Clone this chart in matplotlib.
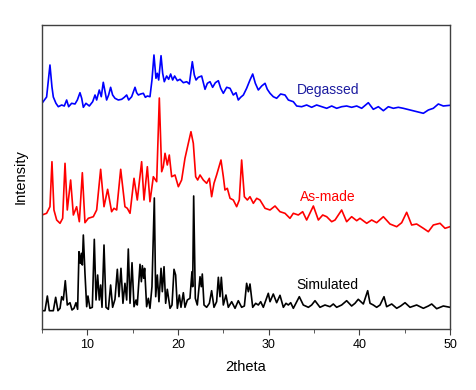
import matplotlib
matplotlib.use("Agg")
import matplotlib.pyplot as plt
from matplotlib.ticker import MultipleLocator

plt.rcParams['font.family'] = ['Liberation Sans', 'DejaVu Sans']

# XRD patterns (2theta, stacked intensity a.u.)
degassed_2theta = [5.00, 5.51, 5.88, 6.10, 6.25, 6.54, 6.80, 7.17, 7.46, 7.72, 7.94, 8.27, 8.64, 8.90,
                   9.19, 9.38, 9.56, 9.85, 10.22, 10.59, 10.85, 11.03, 11.32, 11.54, 11.76, 11.99, 12.13,
                   12.35, 12.57, 12.79, 13.05, 13.42, 13.79, 14.08, 14.34, 14.56, 14.89, 15.26, 15.44,
                   15.63, 15.88, 16.18, 16.40, 16.62, 16.91, 17.13, 17.35, 17.57, 17.72, 17.87, 18.13,
                   18.31, 18.49, 18.75, 18.97, 19.19, 19.41, 19.63, 19.93, 20.22, 20.59, 20.96, 21.25,
                   21.58, 21.80, 21.99, 22.24, 22.61, 22.98, 23.24, 23.53, 23.82, 24.12, 24.45, 24.71,
                   25.00, 25.37, 25.74, 26.10, 26.40, 26.65, 26.91, 27.21, 27.57, 27.94, 28.24, 28.53,
                   28.86, 29.23, 29.60, 29.85, 30.15, 30.51, 30.88, 31.32, 31.80, 32.17, 32.72, 33.09,
                   33.64, 34.19, 34.74, 35.29, 35.85, 36.40, 36.95, 37.50, 38.05, 38.60, 39.15, 39.71,
                   40.26, 40.99, 41.54, 42.10, 42.65, 43.20, 43.75, 44.30, 44.85, 45.59, 46.32, 47.06,
                   47.61, 48.16, 48.71, 49.26, 50.00]
degassed_int = [225.7, 232, 264, 242, 232, 225.7, 222.3, 224, 223, 229, 222.3, 225.7, 225, 229,
                236.3, 230.7, 221.7, 225.7, 223, 227.3, 234, 229, 239, 232.3, 246.7, 235.7, 229,
                234, 241.7, 234, 230.7, 229, 229.7, 231.7, 234, 229, 232.3, 241.7, 236.3,
                234, 235, 235.7, 231.7, 233, 232.3, 249, 274, 250.7, 255.7, 249, 273.3,
                255.7, 247.3, 253, 249.7, 255, 249, 253, 248.3, 249.7, 246.3, 247.3, 245,
                267.3, 254, 249, 251.7, 253, 239.7, 245.7, 247.3, 241.7, 246.3, 248.3, 240.7,
                235.7, 241.7, 240.7, 234, 236.3, 229, 231.7, 234, 240.7, 249, 255, 245.7,
                239, 243, 245.7, 239.7, 235.7, 232.3, 230.7, 235, 234, 229, 227.3, 223,
                222.3, 224, 221.7, 224, 222.3, 220.7, 223, 220.7, 222.3, 223, 221.7, 223,
                220.7, 226.3, 219.7, 222.3, 218.3, 222.3, 220.7, 221.7, 220.7, 219, 217.3, 215.7,
                219, 220.7, 225, 223, 223.7]

asmade_2theta = [5.00, 5.51, 5.88, 6.10, 6.32, 6.62, 6.99, 7.28, 7.54, 7.79, 8.16, 8.46, 8.82, 9.12,
                 9.45, 9.74, 10.11, 10.66, 11.03, 11.47, 11.84, 12.24, 12.68, 12.94, 13.24, 13.68,
                 14.15, 14.41, 14.71, 15.15, 15.51, 15.99, 16.25, 16.62, 16.91, 17.28, 17.65, 17.94,
                 18.20, 18.38, 18.57, 18.82, 19.04, 19.30, 19.67, 20.04, 20.40, 20.77, 21.14, 21.43,
                 21.69, 21.95, 22.17, 22.43, 22.79, 23.16, 23.46, 23.71, 23.97, 24.26, 24.74, 25.00,
                 25.18, 25.44, 25.74, 26.10, 26.47, 26.76, 27.02, 27.32, 27.65, 27.94, 28.31, 28.68,
                 29.04, 29.60, 30.15, 30.70, 31.25, 31.80, 32.35, 32.72, 33.27, 33.75, 34.19, 34.93,
                 35.48, 35.96, 36.40, 36.95, 37.32, 38.05, 38.60, 39.15, 39.71, 40.07, 40.81, 41.36,
                 41.91, 42.65, 43.38, 44.12, 44.67, 45.22, 45.77, 46.32, 47.06, 47.61, 48.16, 48.90,
                 49.45, 50.00]
asmade_int = [114, 115.7, 122.3, 167.3, 119, 109, 105.7, 110.7, 165.7, 119, 149, 114, 122.3, 107.3,
              156.3, 106.3, 110.7, 112.3, 119, 159.7, 122.3, 139.7, 117.3, 120.7, 119, 159.7,
              122.3, 120.7, 115.7, 150.7, 129, 167.3, 129, 162.3, 127.3, 152.3, 147.3, 231,
              157.3, 162.3, 175.7, 164, 174, 152.3, 154, 142.3, 149, 170.7, 185.7, 197.3,
              185.7, 152.3, 149, 154, 149, 145.7, 150.7, 132.3, 145.7, 154, 169, 152.3,
              139, 140.7, 130.7, 129, 122.3, 129, 169, 132.3, 129, 132.3, 125.7, 130.7,
              129, 120.7, 119, 123, 117.3, 115.7, 110.7, 115.7, 114, 117.3, 109, 123,
              109, 114, 112.3, 107.3, 109, 119, 107.3, 112.3, 108.3, 110.7, 105.7, 109,
              106.3, 112.3, 105, 102.3, 106.3, 116.7, 104, 105, 100.7, 97.3, 104, 105.7,
              100.7, 102.3]

simulated_2theta = [5.00, 5.33, 5.59, 5.81, 6.25, 6.51, 6.76, 6.99, 7.17, 7.35, 7.57, 7.79, 8.09, 8.31,
                    8.53, 8.75, 8.93, 9.08, 9.23, 9.34, 9.45, 9.56, 9.74, 9.93, 10.07, 10.29, 10.55,
                    10.77, 10.96, 11.14, 11.32, 11.47, 11.62, 11.84, 12.06, 12.32, 12.57, 12.79, 13.05,
                    13.31, 13.49, 13.71, 13.93, 14.15, 14.34, 14.52, 14.71, 14.93, 15.15, 15.37, 15.51,
                    15.81, 15.96, 16.07, 16.21, 16.32, 16.54, 16.73, 16.91, 17.13, 17.39, 17.54, 17.72,
                    17.90, 18.13, 18.27, 18.46, 18.64, 18.82, 19.12, 19.34, 19.56, 19.74, 19.93, 20.15,
                    20.33, 20.59, 20.77, 21.03, 21.32, 21.54, 21.62, 21.73, 21.91, 22.13, 22.43, 22.57,
                    22.68, 22.87, 23.16, 23.46, 23.71, 23.97, 24.26, 24.45, 24.63, 24.78, 25.00, 25.29,
                    25.55, 25.92, 26.29, 26.65, 27.02, 27.32, 27.57, 27.76, 27.94, 28.24, 28.57, 28.86,
                    29.12, 29.41, 29.96, 30.15, 30.51, 30.88, 31.25, 31.62, 31.91, 32.17, 32.43, 32.72,
                    33.09, 33.38, 33.82, 34.38, 34.74, 35.11, 35.66, 36.21, 36.76, 37.13, 37.50, 38.05,
                    38.60, 39.15, 39.52, 39.88, 40.44, 40.92, 41.18, 41.54, 41.91, 42.28, 42.72, 43.01,
                    43.57, 44.12, 44.56, 45.04, 45.59, 46.32, 47.06, 47.61, 47.98, 48.53, 49.26, 50.00]
simulated_int = [18.3, 18.3, 33, 18.3, 18.3, 31.7, 18.3, 20.7, 32.3, 29, 48.3, 24, 26.3, 19,
                 20.7, 26.3, 19.7, 77.3, 65.7, 75.7, 64, 94, 55.7, 22.3, 33, 20.7, 21.7,
                 89.7, 29, 54, 29, 44, 21.7, 84, 21.7, 19.7, 44, 21.7, 29.7,
                 59.7, 32.3, 60.7, 25.7, 45.7, 29, 80, 25.7, 66.3, 22.3, 29, 24,
                 64.7, 47.3, 63.3, 50.7, 60.7, 22.3, 30.7, 20.7, 42.3, 131, 32.3, 54,
                 27.3, 60.7, 37.3, 62.3, 25.7, 39.7, 20.7, 24, 59.7, 54, 20.7, 34,
                 21.7, 36.3, 21.7, 29, 30.7, 57.3, 42.3, 133, 30.7, 24, 52.3, 42.3,
                 55, 24, 21.7, 25.7, 38.3, 21.7, 27.3, 51.7, 32.3, 51.7, 24, 34,
                 21.7, 27.3, 20.7, 28.3, 21.7, 23, 45.7, 37.3, 45, 21.7, 25.7, 24,
                 27.3, 21.7, 35.7, 27.3, 35, 26.3, 33.7, 21.7, 25.7, 24, 26.3, 20.7,
                 27.3, 32.3, 24, 21.7, 24, 28.3, 21.7, 24, 22.3, 25, 21.7, 24,
                 28.3, 23, 25.7, 29.7, 25, 38.3, 25.7, 24, 21.7, 24, 32.3, 22.3,
                 25, 20.7, 23, 26.3, 21.7, 24, 20.7, 23, 25, 20.3, 23, 21.7]

fig = plt.figure(figsize=(4.76, 3.9), dpi=100)
ax = fig.add_axes([0.0882, 0.1564, 0.8572, 0.7795])

ax.plot(simulated_2theta, simulated_int, color='black', lw=1.2)
ax.plot(asmade_2theta, asmade_int, color='#ff0000', lw=1.2)
ax.plot(degassed_2theta, degassed_int, color='#0000ff', lw=1.2)

ax.text(36.6, 239, "Degassed", color='#1c1ca0', fontsize=10, ha='center', va='center')
ax.text(36.5, 132, "As-made", color='#ff0000', fontsize=10, ha='center', va='center')
ax.text(36.5, 44, "Simulated", color='black', fontsize=10, ha='center', va='center')

ax.set_xlim(5, 50)
ax.set_ylim(0, 304)
ax.xaxis.set_major_locator(MultipleLocator(10))
ax.xaxis.set_minor_locator(MultipleLocator(5))
ax.tick_params(axis='x', which='major', direction='out', length=4, labelsize=9, color='#404040')
ax.tick_params(axis='x', which='minor', direction='out', length=3, color='#404040')
ax.set_yticks([])
for s in ax.spines.values():
    s.set_color('#404040')
    s.set_linewidth(1.0)

ax.set_xlabel("2theta", fontsize=10.5, labelpad=6)
ax.set_ylabel("Intensity", fontsize=10.5, labelpad=10)

fig.savefig("out.png", dpi=100)
